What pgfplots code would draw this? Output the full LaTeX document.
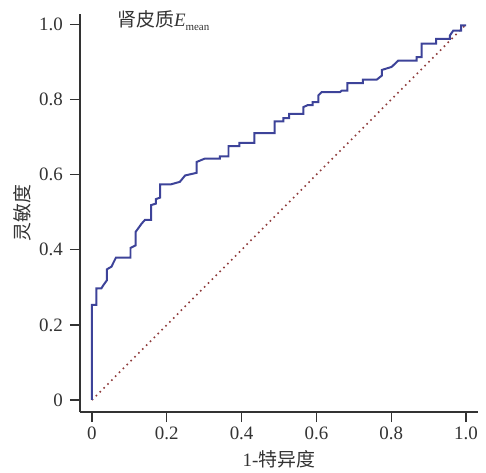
\documentclass[border=0pt]{standalone}
\usepackage{fontspec}
\setmainfont{Liberation Serif}
\newfontfamily\cjk{Noto Sans CJK SC}
\usepackage{pgfplots}
\pgfplotsset{compat=1.18}
\definecolor{roc}{HTML}{3D4399}
\definecolor{refl}{HTML}{8E3B3B}
\definecolor{ink}{HTML}{333333}

\pgfplotstableread{
x y
0 0
0 0.253
0.012 0.253
0.012 0.297
0.025 0.297
0.030 0.305
0.040 0.319
0.040 0.348
0.052 0.355
0.064 0.379
0.103 0.379
0.103 0.405
0.117 0.412
0.117 0.448
0.133 0.470
0.142 0.480
0.158 0.480
0.158 0.519
0.171 0.523
0.171 0.535
0.182 0.539
0.182 0.574
0.210 0.574
0.235 0.581
0.249 0.598
0.280 0.605
0.280 0.634
0.302 0.643
0.342 0.643
0.342 0.649
0.365 0.649
0.365 0.676
0.394 0.676
0.394 0.685
0.434 0.685
0.434 0.711
0.488 0.711
0.488 0.742
0.512 0.742
0.512 0.751
0.527 0.751
0.527 0.762
0.565 0.762
0.565 0.780
0.576 0.785
0.590 0.785
0.590 0.793
0.605 0.793
0.605 0.811
0.614 0.820
0.663 0.820
0.668 0.824
0.683 0.824
0.683 0.844
0.724 0.844
0.724 0.853
0.761 0.853
0.775 0.864
0.775 0.879
0.801 0.887
0.819 0.904
0.868 0.904
0.868 0.913
0.881 0.913
0.881 0.949
0.920 0.949
0.920 0.962
0.957 0.962
0.957 0.971
0.966 0.984
0.987 0.984
0.987 0.998
1.0 0.998
}\roc

\begin{document}
\begin{tikzpicture}
\useasboundingbox (-80bp,-61bp) rectangle (406bp,412bp);
\begin{axis}[
scale only axis,
width=398bp, height=398bp,
xmin=-0.032, xmax=1.032,
ymin=-0.032, ymax=1.028,
axis x line=bottom, axis y line=left,
axis line style={-, ink, line width=1.3pt},
tick style={ink, line width=1.3pt},
tick align=outside,
major tick length=10bp,
xtick={0,0.2,0.4,0.6,0.8,1},
xticklabels={0,0.2,0.4,0.6,0.8,1.0},
ytick={0,0.2,0.4,0.6,0.8,1},
yticklabels={0,0.2,0.4,0.6,0.8,1.0},
ticklabel style={font=\fontsize{19}{22}\selectfont, text=ink, inner sep=0pt},
xticklabel style={anchor=north, yshift=-5bp},
yticklabel style={anchor=east, xshift=-7bp},
xlabel={1-{\cjk 特异度}},
ylabel={\cjk 灵敏度},
xlabel style={at={(axis description cs:0.5,0)}, anchor=base, yshift=-54bp, inner sep=0pt, font=\fontsize{19}{22}\selectfont, text=ink},
ylabel style={at={([xshift=-49bp]axis description cs:0,0.5)}, anchor=south, inner sep=0pt, font=\fontsize{19}{22}\selectfont, text=ink},
clip=false,
]
\addplot[refl, line width=1.6pt, dash pattern=on 1.6pt off 3.9pt, line cap=butt] coordinates {(0,0) (1,1)};
\addplot[roc, line width=2pt, line join=miter] table[x=x, y=y] {\roc};
\node[anchor=base west, font=\fontsize{19}{22}\selectfont, text=ink, inner sep=0pt] at (axis cs:0.067,0.994)
  {{\cjk 肾皮质}\textit{E}\raisebox{-4bp}{\fontsize{11}{12}\selectfont mean}};
\end{axis}
\end{tikzpicture}
\end{document}
